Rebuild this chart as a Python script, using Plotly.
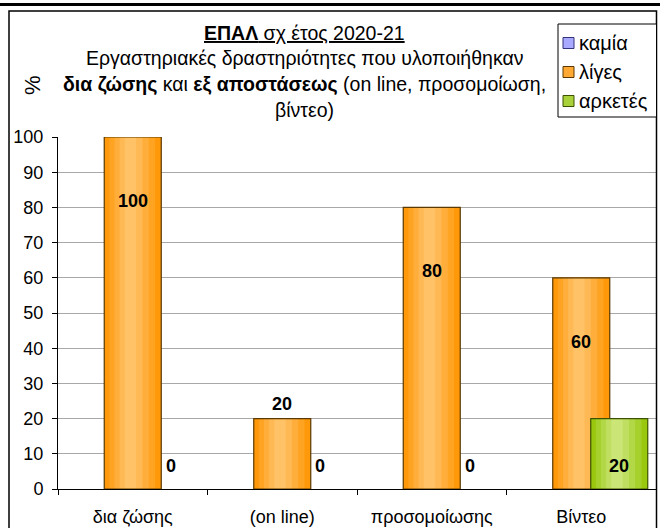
import plotly.graph_objects as go

categories = ["δια ζώσης", "(on line)", "προσομοίωσης", "Βίντεο"]
series_names = ["καμία", "λίγες", "αρκετές"]
kamia = [0, 0, 0, 0]
liges = [100, 20, 80, 60]
arketes = [0, 0, 0, 20]
y_ticks = list(range(0, 101, 10))

FONT = "Liberation Sans, Arial, sans-serif"

# plot area in pixels
L, R, T, B = 58, 656, 137, 489
W, H = 660, 528


def px_x(p):
    return (p - L) / (R - L)


def px_y(p):
    return (B - p) / (B - T)


fig = go.Figure()

cat_px = (R - L) / len(categories)
bar_w = 57 / cat_px
shift = 38 / cat_px

orange_layers = ["#FF990A", "#FFA322", "#FFAE3C", "#FFB954", "#FFC266"]
green_layers = ["#99C80F", "#A6D02C", "#B3D847", "#C0DF62", "#CBE577"]
blue_layers = ["#9999FF", "#A8A8FF", "#B8B8FF", "#C6C6FF", "#D0D0FF"]


def add_series(vals, center_off, layers, edge):
    off = center_off - bar_w / 2
    n = len(layers)
    for i, col in enumerate(layers):
        f = 1 - i / n
        w = bar_w * f
        o = off + (bar_w - w) * 0.45
        fig.add_trace(go.Bar(x=categories, y=vals, width=w, offset=o,
                             marker=dict(color=col, line=dict(width=0)),
                             showlegend=False, hoverinfo="skip"))
    fig.add_trace(go.Bar(x=categories, y=vals, width=bar_w, offset=off,
                         marker=dict(color="rgba(0,0,0,0)",
                                     line=dict(color=edge, width=[1.2 if v else 0 for v in vals])),
                         showlegend=False))


add_series(kamia, -shift, blue_layers, "#33337a")
add_series(liges, 0, orange_layers, "#5a3800")
add_series(arketes, shift, green_layers, "#3d5200")

annotations = []
lab_font = dict(family=FONT, size=18, color="black")
for c, v in zip(categories, liges):
    annotations.append(dict(x=c, y=v, xref="x", yref="y", text="<b>%d</b>" % v,
                            showarrow=False, font=lab_font,
                            yshift=-64 if v >= 40 else 15))
for c, v in zip(categories, arketes):
    annotations.append(dict(x=c, y=0, xref="x", yref="y", text="<b>%d</b>" % v,
                            showarrow=False, font=lab_font, xshift=38, yshift=23))

# title lines
title_lines = [
    "<u><b>ΕΠΑΛ</b> σχ έτος 2020-21</u>",
    "Εργαστηριακές δραστηριότητες που υλοποιήθηκαν",
    "<b>δια ζώσης</b> και <b>εξ αποστάσεως</b> (on line, προσομοίωση,",
    "βίντεο)",
]
for line, yp in zip(title_lines, [33, 58, 84, 110]):
    annotations.append(dict(x=px_x(304), y=px_y(yp), xref="paper", yref="paper",
                            text=line, showarrow=False, xanchor="center", yanchor="middle",
                            font=dict(family=FONT, size=19.5, color="black")))

# y axis title
annotations.append(dict(x=px_x(32), y=px_y(85), xref="paper", yref="paper", text="%",
                        textangle=-90, showarrow=False, xanchor="center", yanchor="middle",
                        font=dict(family=FONT, size=22, color="black")))

shapes = [
    dict(type="line", xref="paper", yref="paper", x0=px_x(0), x1=px_x(660),
         y0=px_y(4.5), y1=px_y(4.5), line=dict(color="black", width=3)),
    dict(type="rect", xref="paper", yref="paper", x0=px_x(9), x1=px_x(656.5),
         y0=px_y(11), y1=px_y(560), line=dict(color="black", width=1.5)),
    dict(type="rect", xref="paper", yref="paper", x0=px_x(558), x1=px_x(656.5),
         y0=px_y(24), y1=px_y(117), line=dict(color="black", width=1),
         fillcolor="white"),
]

# manual legend
sw_cols = ["#A9A9FF", "#FFA833", "#A8D13A"]
sw_edges = ["#33337a", "#5a3800", "#3d5200"]
for name, col, ed, yp in zip(series_names, sw_cols, sw_edges, [43, 72, 101]):
    shapes.append(dict(type="rect", xref="paper", yref="paper",
                       x0=px_x(563), x1=px_x(574), y0=px_y(yp - 5.5), y1=px_y(yp + 5.5),
                       fillcolor=col, line=dict(color=ed, width=1)))
    annotations.append(dict(x=px_x(577), y=px_y(yp), xref="paper", yref="paper",
                            text=name, showarrow=False, xanchor="left", yanchor="middle",
                            font=dict(family=FONT, size=20, color="black")))

fig.update_layout(
    width=W, height=H,
    margin=dict(l=L, r=W - R, t=T, b=H - B),
    barmode="overlay",
    plot_bgcolor="white", paper_bgcolor="white",
    showlegend=False,
    annotations=annotations,
    shapes=shapes,
    font=dict(family=FONT, size=18, color="black"),
)
fig.update_xaxes(
    type="category", tickson="boundaries", ticks="outside", ticklen=5,
    tickcolor="black", showline=True, linecolor="black", linewidth=1,
    showgrid=False, tickfont=dict(family=FONT, size=18, color="black"),
    ticklabelstandoff=11, automargin=False,
)
fig.update_yaxes(
    range=[0, 100], tickvals=y_ticks, ticks="outside", ticklen=5,
    tickcolor="black", showline=True, linecolor="black", linewidth=1,
    showgrid=True, gridcolor="#a8a8a8", gridwidth=1, zeroline=False,
    tickfont=dict(family=FONT, size=18, color="black"),
    ticklabelstandoff=5, automargin=False,
)

fig.write_html("out.html", config={"displayModeBar": False},
               post_script="document.body.style.margin='0';")
